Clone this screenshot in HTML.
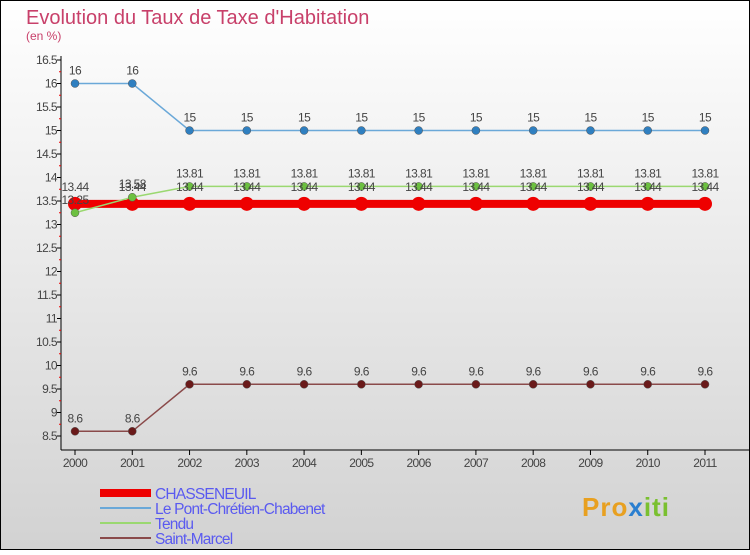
<!DOCTYPE html>
<html><head><meta charset="utf-8"><style>
body{margin:0}
svg text{font-family:"Liberation Sans","DejaVu Sans",sans-serif}
</style></head><body>
<svg id="chart" width="750" height="550" xmlns="http://www.w3.org/2000/svg">
<defs><linearGradient id="bg" x1="0" y1="0" x2="0" y2="1"><stop offset="0" stop-color="#ffffff"/><stop offset="1" stop-color="#d2d2d2"/></linearGradient></defs>
<rect x="0.5" y="0.5" width="749" height="549" fill="url(#bg)" stroke="#000"/>
<text x="26" y="24" font-size="20" fill="#c8406a">Evolution du Taux de Taxe d'Habitation</text>
<text x="26" y="40" font-size="12" fill="#c8406a">(en %)</text>
<g id="axes"></g><g id="series"></g><g id="legend"></g>
<text x="582" y="516" font-size="26" font-weight="bold" fill="#e8a020" letter-spacing="1">Pro<tspan fill="#2a7fd0">x</tspan><tspan fill="#7ac030">iti</tspan></text>
</svg>
<script>
const years=[2000,2001,2002,2003,2004,2005,2006,2007,2008,2009,2010,2011];
const yTicks=[8.5,9,9.5,10,10.5,11,11.5,12,12.5,13,13.5,14,14.5,15,15.5,16,16.5];
const chasseneuil=[13.44,13.44,13.44,13.44,13.44,13.44,13.44,13.44,13.44,13.44,13.44,13.44];
const pontChretien=[16,16,15,15,15,15,15,15,15,15,15,15];
const tendu=[13.25,13.58,13.81,13.81,13.81,13.81,13.81,13.81,13.81,13.81,13.81,13.81];
const saintMarcel=[8.6,8.6,9.6,9.6,9.6,9.6,9.6,9.6,9.6,9.6,9.6,9.6];
const seriesNames=["CHASSENEUIL","Le Pont-Chrétien-Chabenet","Tendu","Saint-Marcel"];
const NS="http://www.w3.org/2000/svg";
function x(i){return 75+i*(705-75)/(years.length-1);}
function y(v){return 436-(v-8.5)*(436-60)/8;}
function mk(p,tag,a){const e=document.createElementNS(NS,tag);for(const k in a)e.setAttribute(k,a[k]);p.appendChild(e);return e;}
const ax=document.getElementById('axes');
let e=mk(ax,'line',{x1:61,y1:56,x2:61,y2:450,stroke:'#000'});


e=mk(ax,'line',{x1:61,y1:450,x2:750,y2:450,stroke:'#000'});


yTicks.forEach((t,i)=>{
  mk(ax,'line',{x1:57,y1:y(t),x2:61,y2:y(t),stroke:'#000'});
  if(i<yTicks.length-1)mk(ax,'line',{x1:59,y1:y(t+0.25),x2:61,y2:y(t+0.25),stroke:'#e00'});
  const tx=mk(ax,'text',{x:57,y:y(t)+4,'font-size':12,fill:'#444','text-anchor':'end','letter-spacing':'-0.6'});
  tx.textContent=String(t);
  
  
});
years.forEach((yr,i)=>{
  mk(ax,'line',{x1:x(i),y1:450,x2:x(i),y2:455,stroke:'#000'});
  const tx=mk(ax,'text',{x:x(i),y:467,'font-size':12,fill:'#444','text-anchor':'middle','letter-spacing':'-0.6'});
  tx.textContent=String(yr);
  
  
});
const sg=document.getElementById('series');
const defs=[
 {d:saintMarcel,c:'#8a4a4a',pc:'#6a1a1a',w:1.5,r:4,n:'saint-marcel'},
 {d:pontChretien,c:'#6aa8d8',pc:'#2f7fc0',w:1.5,r:4,n:'pont-chretien'},
 {d:chasseneuil,c:'#ee0000',pc:'#ee0000',w:8,r:7,n:'chasseneuil'},
 {d:tendu,c:'#9ad870',pc:'#6cc040',w:1.5,r:4,n:'tendu'}
];
defs.forEach(s=>{
  const g=mk(sg,'g',{});
  
  
  const pl=mk(g,'polyline',{points:s.d.map((v,i)=>x(i)+','+y(v)).join(' '),fill:'none',stroke:s.c,'stroke-width':s.w});
  
  
  s.d.forEach((v,i)=>{
    const c=mk(g,'circle',{cx:x(i),cy:y(v),r:s.r,fill:s.pc,stroke:s.w>2?'none':'#555','stroke-width':0.5});
    
    
  });
});
defs.forEach(s=>{
  s.d.forEach((v,i)=>{
    const t=mk(sg,'text',{x:x(i),y:y(v)-(s.w>2?13:9),'font-size':12,fill:'#444','text-anchor':'middle','letter-spacing':'-0.6'});
    t.textContent=String(v);
    
    
  });
});
const lg=document.getElementById('legend');
const lc=[['#ee0000',8],['#6aa8d8',2],['#9ad870',2],['#8a4a4a',2]];
seriesNames.forEach((n,i)=>{
  const yy=493+i*15;
  const ln=mk(lg,'line',{x1:100,y1:yy,x2:151,y2:yy,stroke:lc[i][0],'stroke-width':lc[i][1]});
  
  
  const t=mk(lg,'text',{x:155,y:yy+6,'font-size':15.5,fill:'#5a5af0','letter-spacing':'-0.8'});
  t.textContent=n;
  
  
});
</script>
</body></html>
